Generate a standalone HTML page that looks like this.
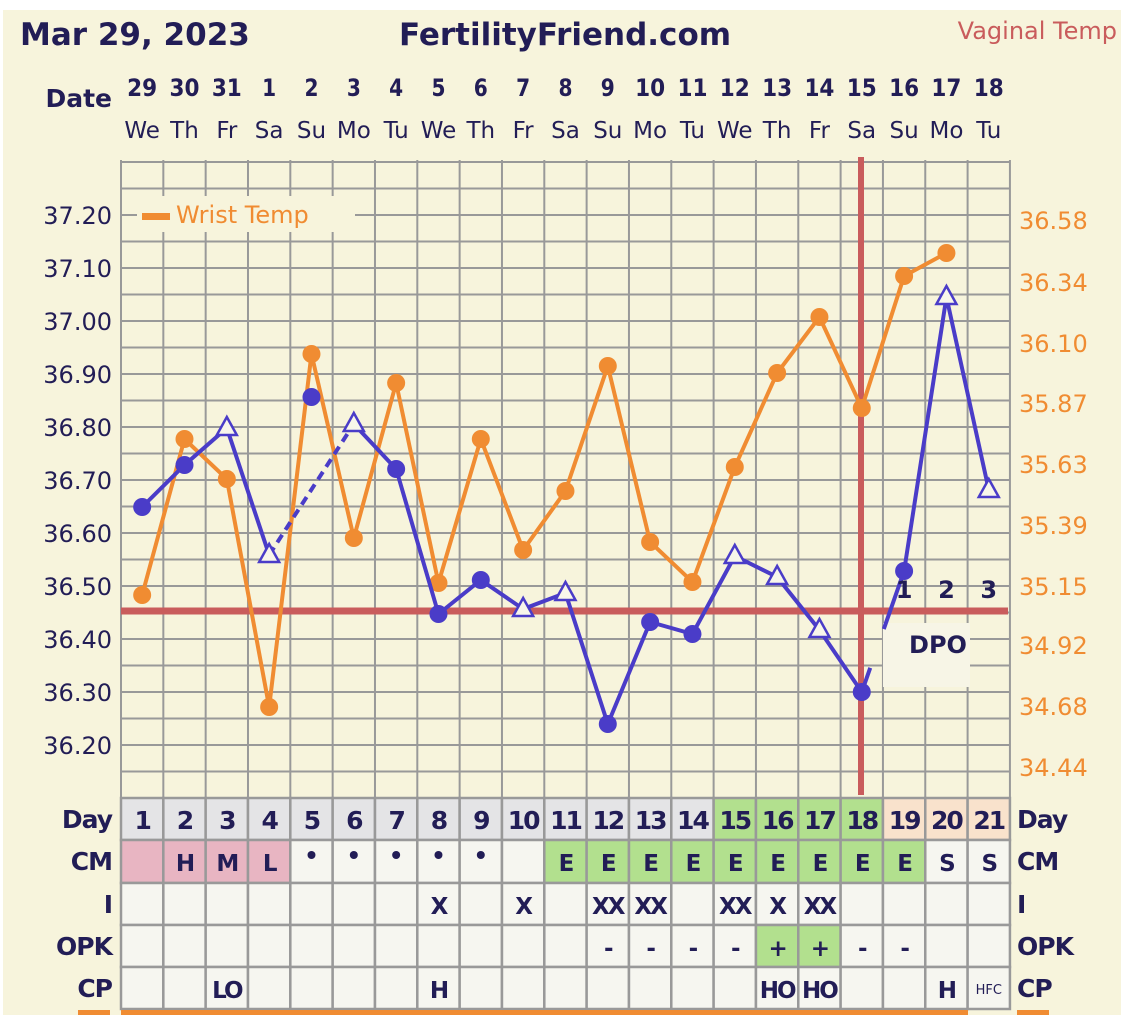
<!DOCTYPE html>
<html><head><meta charset="utf-8"><style>
html,body{margin:0;padding:0;background:#fff;}
svg{display:block;}
</style></head><body>
<svg id="s" xmlns="http://www.w3.org/2000/svg" width="1125" height="1015" viewBox="0 0 1125 1015" font-family="'DejaVu Sans','Liberation Sans',sans-serif">
<rect x="3" y="10" width="1118" height="1005" fill="#f7f4dc"/>
</svg>
<script>
var s=document.getElementById('s');var NS='http://www.w3.org/2000/svg';
function el(t,a,txt){var e=document.createElementNS(NS,t);for(var k in a)e.setAttribute(k,a[k]);if(txt!==undefined)e.textContent=txt;s.appendChild(e);return e;}
var X0=121,CW=42.33,N='#221d56',BL='#4a3cc8',OR='#f08c32',RD='#c95c5c',GR='#999';
function cx(i){return X0+CW*(i+0.5);}
el('text',{x:20,y:45,'font-size':31,'font-weight':'bold',fill:N},'Mar 29, 2023');
el('text',{x:565,y:45,'font-size':31,'font-weight':'bold',fill:N,'text-anchor':'middle'},'FertilityFriend.com');
el('text',{x:1117,y:39,'font-size':24,fill:RD,'text-anchor':'end'},'Vaginal Temp');
el('text',{x:112,y:107,'font-size':25,'font-weight':'bold',fill:N,'text-anchor':'end'},'Date');
var dates=['29','30','31','1','2','3','4','5','6','7','8','9','10','11','12','13','14','15','16','17','18'];
var dow=['We','Th','Fr','Sa','Su','Mo','Tu','We','Th','Fr','Sa','Su','Mo','Tu','We','Th','Fr','Sa','Su','Mo','Tu'];
for(var i=0;i<21;i++){el('text',{x:cx(i),y:96,'font-size':24,'font-weight':'bold',fill:N,'text-anchor':'middle','textLength':dates[i].length>1?30:14,'lengthAdjust':'spacingAndGlyphs'},dates[i]);
el('text',{x:cx(i),y:138,'font-size':23,fill:N,'text-anchor':'middle'},dow[i]);}
for(var k=0;k<=24;k++){var y=162+26.5*k;el('line',{x1:X0,x2:1010,y1:y,y2:y,stroke:GR,'stroke-width':2});}
for(var k=0;k<=21;k++){var x=X0+CW*k;el('line',{x1:x,x2:x,y1:160,y2:798,stroke:GR,'stroke-width':2});}
el('rect',{x:137,y:196,width:218,height:36,fill:'#f7f4dc'});
el('rect',{x:142,y:213,width:28,height:7,fill:OR});
el('text',{x:176,y:223,'font-size':24,fill:OR},'Wrist Temp');
var L=['37.20','37.10','37.00','36.90','36.80','36.70','36.60','36.50','36.40','36.30','36.20'];
for(var i=0;i<L.length;i++)el('text',{x:112,y:215+53*i+9,'font-size':24,fill:N,'text-anchor':'end'},L[i]);
var R=[['36.58',220],['36.34',282],['36.10',343],['35.87',403],['35.63',464],['35.39',525],['35.15',586],['34.92',645],['34.68',706],['34.44',767]];
R.forEach(function(r){el('text',{x:1019,y:r[1]+9,'font-size':24,fill:OR},r[0]);});
el('rect',{x:883,y:623,width:87,height:64,fill:'#f7f5e6'});
el('text',{x:938,y:653,'font-size':24,'font-weight':'bold',fill:N,'text-anchor':'middle'},'DPO');
el('line',{x1:X0,x2:1008,y1:611,y2:611,stroke:RD,'stroke-width':7});
el('line',{x1:861,x2:861,y1:157,y2:795,stroke:RD,'stroke-width':6});
var O=[595,439,479,707,354,538,383,583,439,550,491,366,542,582,467,373,317,408,276,253];
var pts=O.map(function(y,i){return cx(i)+','+y;}).join(' ');
el('polyline',{points:pts,fill:'none',stroke:OR,'stroke-width':4});
O.forEach(function(y,i){el('circle',{cx:cx(i),cy:y,r:9,fill:OR});});
var B=[[507,0],[465,0],[428,1],[555,1],[397,0],[424,1],[469,0],[614,0],[580,0],[609,1],[593,1],[724,0],[622,0],[634,0],[556,1],[577,1],[630,1],[692,0],[571,0],[297,1],[490,1]];
function P(i){return cx(i)+','+B[i][0];}
el('polyline',{points:[P(0),P(1),P(2),P(3)].join(' '),fill:'none',stroke:BL,'stroke-width':4});
el('line',{x1:cx(3),y1:B[3][0],x2:cx(5),y2:B[5][0],stroke:BL,'stroke-width':4,'stroke-dasharray':'9,6'});
var a=[P(5)];for(var i=6;i<=17;i++)a.push(P(i));
el('polyline',{points:a.join(' '),fill:'none',stroke:BL,'stroke-width':4});
var x1=cx(17),y1=B[17][0],x2=cx(18),y2=B[18][0];
el('line',{x1:x1,y1:y1,x2:x1+(x2-x1)*0.2,y2:y1+(y2-y1)*0.2,stroke:BL,'stroke-width':4});
el('line',{x1:x1+(x2-x1)*0.52,y1:y1+(y2-y1)*0.52,x2:x2,y2:y2,stroke:BL,'stroke-width':4});
el('polyline',{points:[P(18),P(19),P(20)].join(' '),fill:'none',stroke:BL,'stroke-width':4});
B.forEach(function(b,i){var x=cx(i),y=b[0];if(b[1])el('polygon',{points:(x)+','+(y-11)+' '+(x-10)+','+(y+7)+' '+(x+10)+','+(y+7),fill:'#f8f6ea',stroke:BL,'stroke-width':2.5});else el('circle',{cx:x,cy:y,r:9,fill:BL});});
['1','2','3'].forEach(function(t,j){el('text',{x:cx(18+j),y:598,'font-size':24,'font-weight':'bold',fill:N,'text-anchor':'middle'},t);});
var rows=[798,840,883,925,967,1009];
var labs=['Day','CM','I','OPK','CP'];
var cm=['','H','M','L','•','•','•','•','•','','E','E','E','E','E','E','E','E','E','S','S'];
var I=['','','','','','','','X','','X','','XX','XX','','XX','X','XX','','','',''];
var opk=['','','','','','','','','','','','-','-','-','-','+','+','-','-','',''];
var cp=['','','LO','','','','','H','','','','','','','','HO','HO','','','H','HFC'];
var data=[null,cm,I,opk,cp];
for(var r=0;r<5;r++){
 el('text',{x:112,y:rows[r]+30,'font-size':25,'font-weight':'bold',fill:N,'text-anchor':'end','letter-spacing':-1},labs[r]);
 el('text',{x:1017,y:rows[r]+30,'font-size':25,'font-weight':'bold',fill:N,'letter-spacing':-1},labs[r]);
 for(var i=0;i<21;i++){
  var f='#f6f6f0';
  if(r==0)f=i>=18?'#f9e2cc':(i>=14?'#b2e08e':'#e4e4e6');
  if(r==1){if(i<4)f='#e8b5c2';else if(i>=10&&i<=18)f='#b2e08e';}
  if(r==3&&(i==15||i==16))f='#b2e08e';
  el('rect',{x:X0+CW*i,y:rows[r],width:CW,height:rows[r+1]-rows[r],fill:f,stroke:GR,'stroke-width':2.5});
  var t=r==0?String(i+1):data[r][i];
  if(t){if(t=='HFC')el('text',{x:cx(i),y:rows[r]+27,'font-size':13,fill:N,'text-anchor':'middle'},t);
  else if(t=='•')el('circle',{cx:cx(i),cy:rows[r]+15,r:4,fill:N});
  else el('text',{x:cx(i),y:rows[r]+31,'font-size':r==0?25:23,'font-weight':'bold',fill:N,'text-anchor':'middle','letter-spacing':-2},t);}
 }
}
el('rect',{x:X0,y:1010,width:847,height:5,fill:OR});
el('rect',{x:78,y:1010,width:32,height:5,fill:OR});
el('rect',{x:1017,y:1010,width:32,height:5,fill:OR});
</script>
</body></html>
